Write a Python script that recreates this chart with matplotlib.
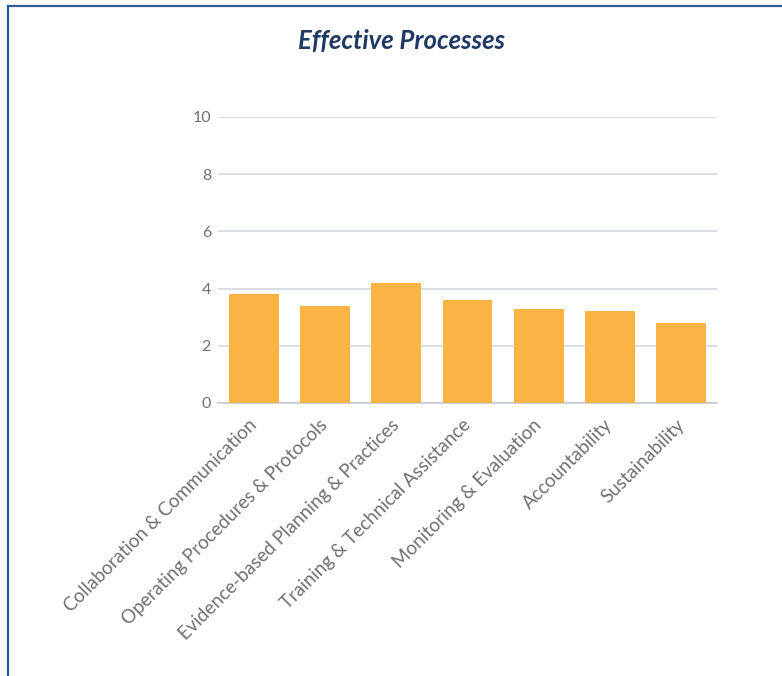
import matplotlib as mpl
mpl.use('Agg')
import matplotlib.pyplot as plt
import numpy as np

categories = [
    "Collaboration & Communication",
    "Operating Procedures & Protocols",
    "Evidence-based Planning & Practices",
    "Training & Technical Assistance",
    "Monitoring & Evaluation",
    "Accountability",
    "Sustainability",
]
scores = [3.8, 3.4, 4.2, 3.6, 3.3, 3.2, 2.8]
y_ticks = [0, 2, 4, 6, 8, 10]

bar_color = "#fab443"
grid_color = "#d3d7e0"
text_color = "#707070"
title_color = "#1f3864"
frame_color = "#2b5d97"

fig = plt.figure(figsize=(7.82, 6.76), dpi=100)
fig.patch.set_facecolor("white")

# blue frame on top and left side
fig.add_artist(plt.Line2D([8 / 782, 1], [1 - 6 / 676, 1 - 6 / 676],
                          transform=fig.transFigure, color=frame_color, lw=1.6))
fig.add_artist(plt.Line2D([8 / 782, 8 / 782], [0, 1 - 6 / 676],
                          transform=fig.transFigure, color=frame_color, lw=1.6))

fig.text(402 / 782, 1 - 41 / 676, "Effective Processes", ha="center", va="center",
         fontsize=18.5, fontweight="bold", fontstyle="italic", color=title_color,
         family="Lato")

ax = fig.add_axes([218 / 782, 1 - 403 / 676, (717 - 218) / 782, (403 - 117) / 676])
x = np.arange(len(categories))
ax.bar(x, scores, width=0.7, color=bar_color, zorder=3)

ax.set_xlim(-0.5, len(categories) - 0.5)
ax.set_ylim(0, 10)
ax.set_yticks(y_ticks)
ax.set_yticklabels([str(t) for t in y_ticks], family="Lato", fontsize=11.5)
ax.yaxis.grid(True, color=grid_color, lw=1.2, zorder=0)
ax.set_axisbelow(True)
for s in ["top", "right", "left"]:
    ax.spines[s].set_visible(False)
ax.spines["bottom"].set_color("#c4c9d6")
ax.spines["bottom"].set_linewidth(1.2)
ax.tick_params(axis="both", length=0, colors=text_color)
ax.tick_params(axis="y", pad=5)
ax.set_xticks(x)
ax.set_xticklabels(categories, rotation=45, ha="right", va="center",
                   rotation_mode="anchor", color=text_color, fontsize=13.5,
                   family="Lato")
ax.tick_params(axis="x", pad=14)
ax.set_facecolor("white")

fig.savefig("out.png", dpi=100, facecolor="white")
